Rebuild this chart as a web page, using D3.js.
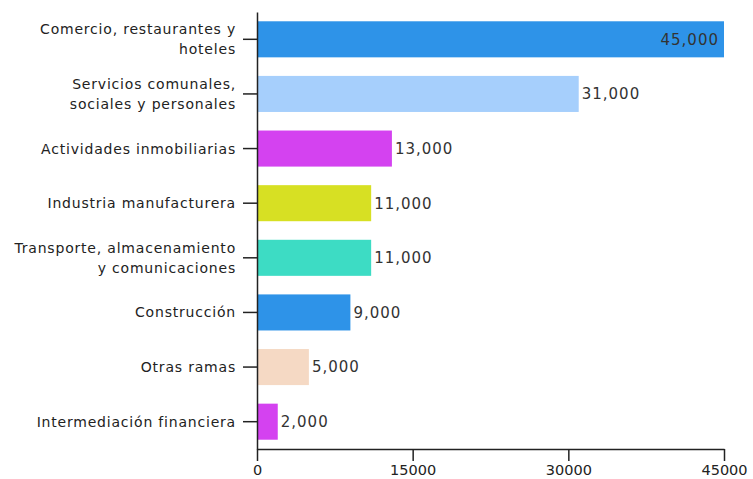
<!DOCTYPE html>
<html>
<head>
<meta charset="utf-8">
<script src="https://cdn.jsdelivr.net/npm/d3@7"></script>
<style>
body{margin:0;background:#fff;}
svg text{font-family:"DejaVu Sans",sans-serif;fill:#222;}
</style>
</head>
<body>
<svg id="chart" width="753" height="479"></svg>
<script>
// data
var sectors = [
  "Comercio, restaurantes y|hoteles",
  "Servicios comunales,|sociales y personales",
  "Actividades inmobiliarias",
  "Industria manufacturera",
  "Transporte, almacenamiento|y comunicaciones",
  "Construcción",
  "Otras ramas",
  "Intermediación financiera"
]
var values = [45000, 31000, 13000, 11000, 11000, 9000, 5000, 2000]
var colors = ["#2e93e8", "#a6cffc", "#d442f0", "#d7e023", "#3ddcc4", "#2e93e8", "#f5d9c4", "#d442f0"]
var xTicks = [0, 15000, 30000, 45000]

var svg = d3.select('#chart')
var mLeft = 257, mRight = 724, mTop = 12, mBottom = 449

var x = d3.scaleLinear().domain([0, 45000]).range([mLeft, mRight])
var y = d3.scaleBand().domain(sectors).range([mTop, mBottom]).paddingInner(0.34).paddingOuter(0.17)
var fmt = d3.format(',')

svg.selectAll('rect.bar').data(values).enter().append('rect')
  .attr('class', 'bar')
  .attr('x', x(0))
  .attr('y', function(d, i){ return y(sectors[i]) })
  .attr('width', function(d){ return x(d) - x(0) })
  .attr('height', y.bandwidth())
  .attr('fill', function(d, i){ return colors[i] })

svg.selectAll('text.val').data(values).enter().append('text')
  .attr('class', 'val')
  .attr('x', function(d, i){ return i == 0 ? x(d) - 5 : x(d) + 3 })
  .attr('y', function(d, i){ return y(sectors[i]) + y.bandwidth()/2 })
  .attr('dy', '0.36em')
  .attr('text-anchor', function(d, i){ return i == 0 ? 'end' : 'start' })
  .style('font-size', '15px')
  .style('letter-spacing', '1px')
  .style('fill', '#333')
  .text(function(d){ return fmt(d) })

// y axis
var yAxis = svg.append('g').attr('transform', 'translate(' + mLeft + ',0)')
  .call(d3.axisLeft(y).tickSize(14).tickPadding(7).tickSizeOuter(0).tickFormat(''))
yAxis.select('.domain').attr('stroke', '#222').attr('stroke-width', 1.5)
yAxis.selectAll('.tick line').attr('stroke', '#222').attr('stroke-width', 1.5)
yAxis.selectAll('.tick').each(function(d){
  var lines = d.split('|')
  var t = d3.select(this).append('text')
    .attr('x', -21).attr('text-anchor', 'end')
    .style('font-size', '14px').style('letter-spacing', '0.8px').style('fill', '#222')
  lines.forEach(function(l, k){
    t.append('tspan').attr('x', -21)
      .attr('y', (k - (lines.length - 1)/2) * 20)
      .attr('dy', '0.36em').text(l)
  })
})

// x axis
var xAxis = svg.append('g').attr('transform', 'translate(0,' + mBottom + ')')
  .call(d3.axisBottom(x).tickValues(xTicks).tickSize(12).tickPadding(4).tickSizeOuter(0).tickFormat(d3.format('d')))
xAxis.select('.domain').attr('stroke', '#222').attr('stroke-width', 1.5)
xAxis.selectAll('.tick line').attr('stroke', '#222').attr('stroke-width', 1.5)
xAxis.selectAll('.tick text').style('font-size', '14.5px').style('fill', '#222')
</script>
</body>
</html>
